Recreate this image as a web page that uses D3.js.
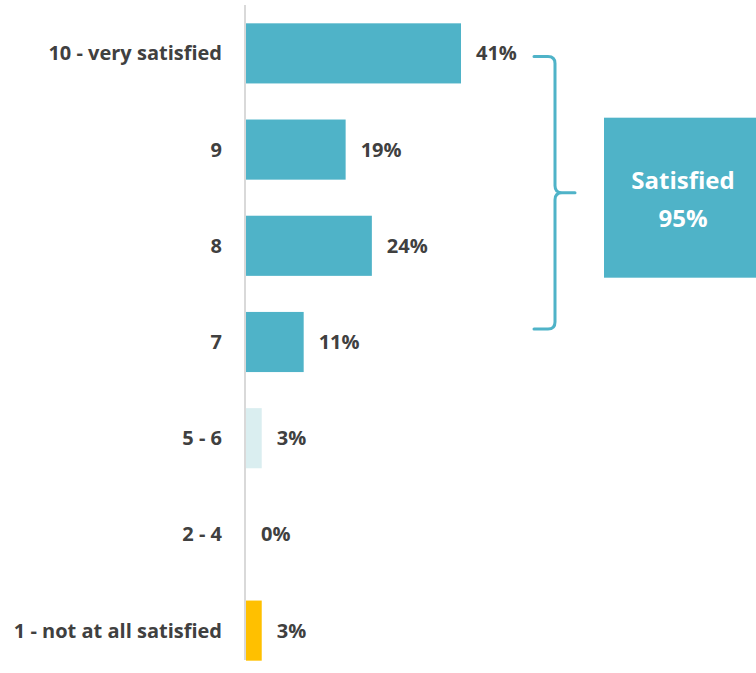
<!DOCTYPE html>
<html>
<head>
<meta charset="utf-8">
<script src="https://cdn.jsdelivr.net/npm/d3@7"></script>
<style>
  body { margin: 0; background: #fff; }
  text { font-family: "Open Sans", Lato, sans-serif; font-weight: bold; }
</style>
</head>
<body>
<div id="chart"></div>
<script>
// chart data
const categories = ['10 - very satisfied', '9', '8', '7', '5 - 6', '2 - 4', '1 - not at all satisfied'];
const values = [41, 19, 24, 11, 3, 0, 3];
const satisfiedGroup = ['10 - very satisfied', '9', '8', '7'];
const summaryLabel = ['Satisfied', '95%'];

const width = 756;
const height = 673;
const axisX = 245;

const teal = '#4fb3c8';
const colorFor = (c) => {
  if (c === '5 - 6') return '#daeef0';
  if (c === '1 - not at all satisfied') return '#ffc000';
  return teal;
};

const svg = d3.select('#chart')
  .append('svg')
  .attr('width', width)
  .attr('height', height);

const x = d3.scaleLinear()
  .domain([0, 41])
  .range([axisX + 1, 461]);

const y = d3.scaleBand()
  .domain(categories)
  .range([6, 678])
  .paddingInner(0.375)
  .paddingOuter(0.18);

// bars
svg.selectAll('rect.bar')
  .data(categories)
  .enter()
  .append('rect')
  .attr('class', 'bar')
  .attr('x', x(0))
  .attr('y', (d) => y(d))
  .attr('width', (d, i) => x(values[i]) - x(0))
  .attr('height', y.bandwidth())
  .attr('fill', colorFor);

// vertical axis line
svg.append('line')
  .attr('x1', axisX).attr('x2', axisX)
  .attr('y1', 5).attr('y2', 660)
  .attr('stroke', '#d9d9d9')
  .attr('stroke-width', 2);

// category labels
svg.selectAll('text.cat')
  .data(categories)
  .enter()
  .append('text')
  .attr('class', 'cat')
  .attr('x', 222)
  .attr('y', (d) => y(d) + y.bandwidth() / 2)
  .attr('dy', '0.35em')
  .attr('text-anchor', 'end')
  .attr('font-size', 20)
  .attr('fill', '#404040')
  .text((d) => d);

// value labels
svg.selectAll('text.val')
  .data(categories)
  .enter()
  .append('text')
  .attr('class', 'val')
  .attr('x', (d, i) => x(values[i]) + 15)
  .attr('y', (d) => y(d) + y.bandwidth() / 2)
  .attr('dy', '0.35em')
  .attr('font-size', 20)
  .attr('fill', '#404040')
  .text((d, i) => values[i] + '%');

// brace around the satisfied group
const braceTop = y(satisfiedGroup[0]) + y.bandwidth() / 2 + 3;
const braceBottom = y(satisfiedGroup[satisfiedGroup.length - 1]) + y.bandwidth() / 2 - 13;
const mid = (braceTop + braceBottom) / 2;
const bx = 555, r = 7;
const brace = d3.path();
brace.moveTo(534, braceTop);
brace.lineTo(bx - r, braceTop);
brace.quadraticCurveTo(bx, braceTop, bx, braceTop + r);
brace.lineTo(bx, mid - r);
brace.quadraticCurveTo(bx, mid, bx + r, mid);
brace.lineTo(575, mid);
brace.moveTo(bx + r, mid);
brace.quadraticCurveTo(bx, mid, bx, mid + r);
brace.lineTo(bx, braceBottom - r);
brace.quadraticCurveTo(bx, braceBottom, bx - r, braceBottom);
brace.lineTo(534, braceBottom);

svg.append('path')
  .attr('d', brace.toString())
  .attr('fill', 'none')
  .attr('stroke', teal)
  .attr('stroke-width', 3)
  .attr('stroke-linecap', 'round');

// summary box
svg.append('rect')
  .attr('x', 604)
  .attr('y', mid - 75)
  .attr('width', 160)
  .attr('height', 160)
  .attr('fill', teal);

svg.selectAll('text.summary')
  .data(summaryLabel)
  .enter()
  .append('text')
  .attr('class', 'summary')
  .attr('x', 683)
  .attr('y', (d, i) => mid - 12 + i * 38)
  .attr('dy', '0.35em')
  .attr('text-anchor', 'middle')
  .attr('font-size', 24)
  .attr('fill', '#fff')
  .text((d) => d);
</script>
</body>
</html>
